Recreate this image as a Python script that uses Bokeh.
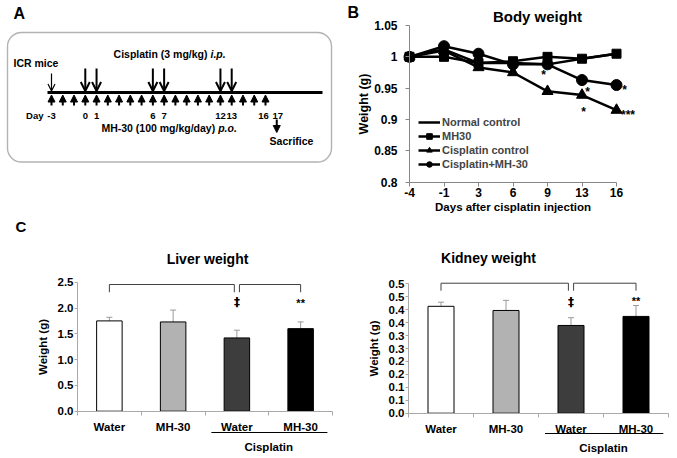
from bokeh.plotting import figure
from bokeh.models import (Range1d, FixedTicker, Legend, LegendItem, Arrow, NormalHead,
                          OpenHead, TeeHead, Whisker, BoxAnnotation, ColumnDataSource)
from bokeh.layouts import row, column
from bokeh.embed import file_html
from bokeh.resources import INLINE
from bokeh.core.properties import value

FONT = "Liberation Sans"

# ---------------- data ----------------
# Panel A: treatment schedule (days)
mh30_days = [-3, -2, -1, 0, 1, 2, 3, 4, 5, 6, 7, 8, 9, 10, 11, 12, 13, 14, 15, 16]
cisplatin_days = [0, 1, 6, 7, 12, 13]
arrival_day = -3
sacrifice_day = 17
day_labels = [-3, 0, 1, 6, 7, 12, 13, 16, 17]

# Panel B: body weight (relative)
bw_days = ["-4", "-1", "3", "6", "9", "13", "16"]
normal_control = [1.000, 1.012, 0.990, 0.990, 0.988, 0.997, 1.005]
mh30_group = [1.000, 1.000, 0.990, 0.993, 1.000, 0.997, 1.005]
cis_control = [1.000, 1.010, 0.983, 0.975, 0.945, 0.939, 0.915]
cis_mh30 = [1.000, 1.017, 1.005, 0.988, 0.988, 0.963, 0.955]
bw_yticks = [0.8, 0.85, 0.9, 0.95, 1.0, 1.05]
bw_ytick_labels = ["0.8", "0.85", "0.9", "0.95", "1", "1.05"]

# Panel C: organ weights
c_groups = ["Water", "MH-30", "Water", "MH-30"]
liver_mean = [1.75, 1.73, 1.42, 1.60]
liver_err = [0.07, 0.23, 0.15, 0.13]
kidney_mean = [0.413, 0.397, 0.339, 0.374]
kidney_err = [0.016, 0.039, 0.030, 0.042]
liver_yticks = [0.0, 0.5, 1.0, 1.5, 2.0, 2.5]
liver_ytick_labels = ["0.0", "0.5", "1.0", "1.5", "2.0", "2.5"]
kidney_yticks = [0.0, 0.05, 0.1, 0.15, 0.2, 0.25, 0.3, 0.35, 0.4, 0.45, 0.5]
kidney_ytick_labels = ["0.0", "0.1", "0.1", "0.2", "0.2", "0.3", "0.3", "0.4", "0.4", "0.5", "0.5"]
bar_colors = ["#ffffff", "#b2b2b2", "#3d3d3d", "#000000"]


def base_fig(w, h, xr, yr, **kw):
    p = figure(width=w, height=h, x_range=xr, y_range=yr, output_backend="svg",
               toolbar_location=None, min_border=0, min_border_left=0, min_border_right=0,
               min_border_top=0, min_border_bottom=0, **kw)
    p.outline_line_color = None
    p.background_fill_color = "white"
    p.border_fill_color = "white"
    p.xgrid.visible = False
    p.ygrid.visible = False
    return p


def style_axis(ax, color, size):
    ax.axis_line_color = color
    ax.major_tick_line_color = color
    ax.minor_tick_line_color = color
    ax.major_label_text_font = FONT
    ax.major_label_text_font_style = "bold"
    ax.major_label_text_font_size = size
    ax.major_label_text_color = "black"
    ax.axis_label_text_font = FONT
    ax.axis_label_text_font_style = "bold"
    ax.axis_label_text_color = "black"


txt = dict(text_font=value(FONT), text_font_style="bold", text_color="black",
           text_baseline="middle")


def put_text(p, x, y, t, size, align="center", style="bold", **kw):
    p.text(x=[x], y=[y], text=[t], text_font_size=size, text_align=align,
           **{**txt, "text_font_style": style}, **kw)


# ---------------- Panel A ----------------
HA = 216
PXD = 11.263
X0 = -3 - 51 / PXD
pA = base_fig(340, HA, Range1d(X0, X0 + 340 / PXD), Range1d(0, HA),
              x_axis_location=None, y_axis_location=None)


def ax_(px):
    return X0 + px / PXD


def ay_(py):
    return HA - py


pA.add_layout(BoxAnnotation(left=ax_(7), right=ax_(331), top=ay_(32), bottom=ay_(161.5),
                            fill_alpha=0, line_color="black", line_width=1.4,
                            border_radius=14))
pA.line(x=[ax_(47), ax_(322)], y=[ay_(92), ay_(92)], line_width=3, color="black")

src_mh = ColumnDataSource(dict(x=mh30_days, y0=[ay_(105)] * len(mh30_days),
                               y1=[ay_(94.5)] * len(mh30_days)))
pA.add_layout(Arrow(end=NormalHead(size=7, fill_color="black", line_color="black", line_width=1),
                    x_start="x", y_start="y0", x_end="x", y_end="y1", source=src_mh,
                    line_width=2, line_color="black"))
src_cis = ColumnDataSource(dict(x=cisplatin_days, y0=[ay_(68)] * len(cisplatin_days),
                                y1=[ay_(90.5)] * len(cisplatin_days)))
pA.add_layout(Arrow(end=OpenHead(size=9, line_width=2, line_color="black"),
                    x_start="x", y_start="y0", x_end="x", y_end="y1", source=src_cis,
                    line_width=2, line_color="black"))
pA.add_layout(Arrow(end=OpenHead(size=7, line_width=1.2, line_color="black"),
                    x_start=arrival_day, y_start=ay_(73), x_end=arrival_day, y_end=ay_(90.5),
                    line_width=1.2, line_color="black"))
pA.add_layout(Arrow(end=NormalHead(size=7, fill_color="black", line_color="black", line_width=1),
                    x_start=sacrifice_day, y_start=ay_(119), x_end=sacrifice_day, y_end=ay_(132),
                    line_width=2, line_color="black"))

put_text(pA, ax_(13), ay_(12.5), "A", "16px", align="left")
put_text(pA, ax_(13), ay_(62), "ICR mice", "10.5px", align="left")
put_text(pA, ax_(207), ay_(53), "Cisplatin (3 mg/kg)", "10.5px", align="right")
put_text(pA, ax_(210), ay_(53), "i.p.", "10.5px", align="left", style="bold italic")
put_text(pA, ax_(43), ay_(115), "Day", "9.5px", align="right")
day_label_nudge = [0, 0, 0, 0, 0, 0, 0, -2, 1]
pA.text(x=day_labels, y=[ay_(115)] * len(day_labels), text=[str(d) for d in day_labels],
        x_offset=day_label_nudge, text_font_size="9.5px", text_align="center", **txt)
put_text(pA, ax_(214.7), ay_(127), "MH-30 (100 mg/kg/day)", "10.5px", align="right")
put_text(pA, ax_(217.7), ay_(127), "p.o.", "10.5px", align="left", style="bold italic")
put_text(pA, ax_(291), ay_(140), "Sacrifice", "10.5px")

# ---------------- Panel B ----------------
AXB = "#868686"
BPX, BPY = 34.5, 626.8          # pixels per category step / per weight unit
B_IDX0_PX, B_TOP_PX = 409, 25   # page pixel of first category / of value 1.05


def bx(px):
    return (px - B_IDX0_PX) / BPX


def by(py):
    return 1.05 - (py - B_TOP_PX) / BPY


pB = base_fig(337, 216, Range1d(bx(340), bx(677)), Range1d(by(216), by(0)))
xs = list(range(len(bw_days)))
r_norm = pB.line(xs, normal_control, line_width=2.5, color="black")
r_mh_l = pB.line(xs, mh30_group, line_width=2.5, color="black")
r_mh_s = pB.scatter(xs, mh30_group, marker="square", size=9, color="black")
r_cis_l = pB.line(xs, cis_control, line_width=2.5, color="black")
r_cis_s = pB.scatter(xs, cis_control, marker="triangle", size=11, color="black")
r_cm_l = pB.line(xs, cis_mh30, line_width=2.5, color="black")
r_cm_s = pB.scatter(xs, cis_mh30, marker="circle", size=11, color="black")

xa = pB.xaxis[0]
style_axis(xa, AXB, "12px")
xa.fixed_location = bw_yticks[0]
xa.ticker = FixedTicker(ticks=xs)
xa.major_label_overrides = {i: d for i, d in enumerate(bw_days)}
xa.bounds = (xs[0], xs[-1])
xa.major_tick_out = 4
xa.major_tick_in = 0
xa.minor_tick_out = 0
xa.minor_tick_in = 0
xa.major_label_standoff = 2
xa.axis_label = "Days after cisplatin injection"
xa.axis_label_standoff = 0
xa.axis_label_text_font_size = "11.5px"

ya = pB.yaxis[0]
style_axis(ya, AXB, "12px")
ya.fixed_location = xs[0]
ya.ticker = FixedTicker(ticks=bw_yticks)
ya.major_label_overrides = dict(zip(bw_yticks, bw_ytick_labels))
ya.bounds = (bw_yticks[0], bw_yticks[-1])
ya.major_tick_out = 4
ya.major_tick_in = 0
ya.minor_tick_out = 0
ya.minor_tick_in = 0
ya.major_label_standoff = 8
ya.axis_label = "Weight (g)"
ya.axis_label_standoff = 0
ya.axis_label_text_font_size = "12.5px"

legend = Legend(items=[
    LegendItem(label="Normal control", renderers=[r_norm]),
    LegendItem(label="MH30", renderers=[r_mh_l, r_mh_s]),
    LegendItem(label="Cisplatin control", renderers=[r_cis_l, r_cis_s]),
    LegendItem(label="Cisplatin+MH-30", renderers=[r_cm_l, r_cm_s]),
], location=(78, 45), label_text_font=FONT, label_text_font_style="bold",
    label_text_font_size="11px", glyph_width=22, glyph_height=14, label_height=14,
    label_standoff=2, spacing=0, padding=0, margin=0, border_line_color=None,
    background_fill_alpha=0)
pB.add_layout(legend)

# significance marks: (series, index, dx px, dy px, text)
bw_stars = [(cis_mh30, 4, -4, 11, "*"), (cis_mh30, 5, 5.5, 12, "*"),
            (cis_control, 5, 1.5, 16.5, "*"), (cis_mh30, 6, 8, 4.5, "*"),
            (cis_control, 6, 11.5, 5, "***")]
for ser, i, ox, oy, t in bw_stars:
    pB.text(x=[xs[i]], y=[ser[i]], text=[t], x_offset=ox, y_offset=oy,
            text_font_size="12px", text_align="center", **txt)

put_text(pB, bx(537), by(16), "Body weight", "15px")
put_text(pB, bx(347), by(11.5), "B", "16px", align="left")

# ---------------- Panel C ----------------
AXC = "#a9a9a9"
ERR = "#9a9a9a"
BRK = "#404040"
gx = [0.5, 1.5, 2.5, 3.5]


def bar_panel(fig_x0, w, x0px, pxu_x, y0px, pxu_y, means, errs, yticks, ylabels,
              title, title_xy, br_y, br_drop, dag_y, star_y, line_py, cis_py):
    def fx(px):
        return (px - x0px) / pxu_x

    def fy(py):
        return (y0px - py) / pxu_y

    p = base_fig(w, 242, Range1d(fx(fig_x0), fx(fig_x0 + w)), Range1d(fy(458), fy(216)))
    p.vbar(x=gx, top=means, width=0.4, fill_color=bar_colors, line_color="black",
           line_width=1)
    src = ColumnDataSource(dict(x=gx, lo=means, hi=[m + e for m, e in zip(means, errs)]))
    p.add_layout(Whisker(base="x", lower="lo", upper="hi", source=src,
                         upper_head=TeeHead(size=6, line_color=ERR, line_width=1),
                         lower_head=None, line_color=ERR, line_width=1))
    xa = p.xaxis[0]
    style_axis(xa, AXC, "11.5px")
    xa.fixed_location = yticks[0]
    xa.ticker = FixedTicker(ticks=gx, minor_ticks=[0, 1, 2, 3, 4])
    xa.major_label_overrides = dict(zip(gx, c_groups))
    xa.bounds = (0, 4)
    xa.major_tick_out = 0
    xa.major_tick_in = 0
    xa.minor_tick_out = 4
    xa.minor_tick_in = 0
    xa.major_label_standoff = 6
    ya = p.yaxis[0]
    style_axis(ya, AXC, "11.5px")
    ya.fixed_location = 0
    ya.ticker = FixedTicker(ticks=yticks)
    ya.major_label_overrides = dict(zip(yticks, ylabels))
    ya.bounds = (yticks[0], yticks[-1])
    ya.major_tick_out = 3
    ya.major_tick_in = 0
    ya.minor_tick_out = 0
    ya.minor_tick_in = 0
    ya.major_label_standoff = 1
    ya.axis_label = "Weight (g)"
    ya.axis_label_standoff = 6
    ya.axis_label_text_font_size = "11.5px"
    # significance brackets
    p.multi_line(xs=[[gx[0], gx[0], gx[2] - 0.04, gx[2] - 0.04],
                     [gx[2] + 0.04, gx[2] + 0.04, gx[3], gx[3]]],
                 ys=[[br_y - br_drop, br_y, br_y, br_y - br_drop]] * 2,
                 line_color=BRK, line_width=1)
    p.text(x=[gx[2]], y=[dag_y], text=["\u2021"], text_font_size="12px",
           text_align="center", **{**txt, "text_font": value("DejaVu Sans")})
    p.text(x=[gx[3]], y=[star_y], text=["**"], text_font_size="11px", y_offset=3,
           text_align="center", **txt)
    # Cisplatin group label
    p.line(x=[gx[2] - 0.4, gx[3] + 0.42], y=[fy(line_py), fy(line_py)],
           line_color="black", line_width=1)
    put_text(p, (gx[2] + gx[3]) / 2, fy(cis_py), "Cisplatin", "11.5px")
    put_text(p, fx(title_xy[0]), fy(title_xy[1]), title, "14px")
    return p, fx, fy


pL, lfx, lfy = bar_panel(0, 340, 77, 63.75, 410.7, 51.6, liver_mean, liver_err,
                         liver_yticks, liver_ytick_labels, "Liver weight", (207, 258),
                         2.455, 0.15, 2.11, 2.16, 432, 446.5)
put_text(pL, lfx(15), lfy(226), "C", "15px", align="left")
pK, _, _ = bar_panel(340, 337, 408, 65, 412.7, 258.8, kidney_mean, kidney_err,
                     kidney_yticks, kidney_ytick_labels, "Kidney weight", (488, 257),
                     0.5023, 0.029, 0.429, 0.447, 433, 447.5)

layout = column(row(pA, pB), row(pL, pK))
open("out.html", "w").write(file_html(layout, INLINE))
